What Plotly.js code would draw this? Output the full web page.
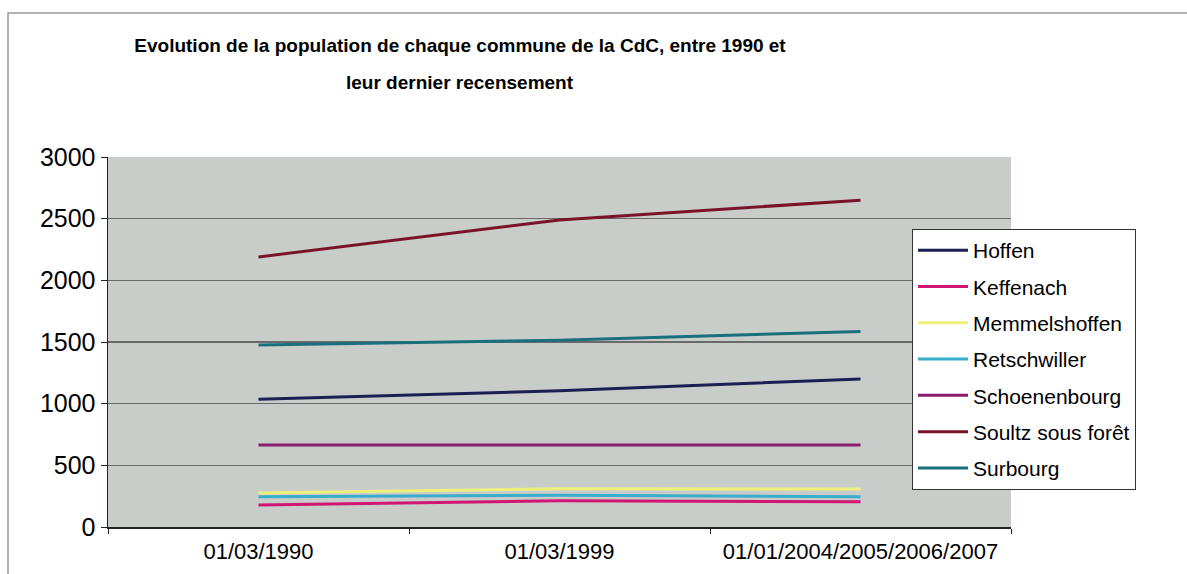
<!DOCTYPE html>
<html>
<head>
<meta charset="utf-8">
<script src="https://cdn.plot.ly/plotly-3.0.1.min.js"></script>
<style>html,body{margin:0;padding:0;background:#fff;}#chart{width:1187px;height:574px;}</style>
</head>
<body>
<div id="chart"></div>
<script>
const categories = ["01/03/1990", "01/03/1999", "01/01/2004/2005/2006/2007"];
const communes = ["Hoffen", "Keffenach", "Memmelshoffen", "Retschwiller", "Schoenenbourg", "Soultz sous forêt", "Surbourg"];
const hoffen = [1035, 1105, 1200];
const keffenach = [178, 213, 205];
const memmelshoffen = [275, 310, 308];
const retschwiller = [246, 257, 246];
const schoenenbourg = [665, 665, 665];
const soultz = [2190, 2490, 2650];
const surbourg = [1475, 1515, 1585];
const seriesValues = [hoffen, keffenach, memmelshoffen, retschwiller, schoenenbourg, soultz, surbourg];
const colors = ["#1b1f52", "#d01672", "#eef07a", "#3aaccc", "#8a1c6e", "#7a1228", "#1a6f7c"];
const yTicks = [0, 500, 1000, 1500, 2000, 2500, 3000];
const titleLines = ["Evolution de la population de chaque commune de la CdC, entre 1990 et", "leur dernier recensement"];

const font = "Arial, 'Liberation Sans', sans-serif";

const traces = communes.map((name, i) => ({
  type: "scatter",
  mode: "lines",
  name: name,
  legendgroup: "g" + i,
  x: categories,
  y: seriesValues[i],
  line: {color: colors[i], width: 3},
  hoverinfo: "x+y+name"
}));

const layout = {
  width: 1187,
  height: 574,
  margin: {l: 108, r: 176, t: 157, b: 47},
  paper_bgcolor: "#ffffff",
  plot_bgcolor: "#c9cdca",
  showlegend: true,
  title: {
    text: "<b>" + titleLines[0] + "</b>",
    font: {family: font, size: 19, color: "#000"},
    x: 460 / 1187,
    xref: "container",
    xanchor: "center",
    y: 1 - 45 / 574,
    yref: "container",
    yanchor: "middle"
  },
  annotations: [
    {text: "<b>" + titleLines[1] + "</b>", xref: "paper", yref: "paper",
     x: (460 - 108) / 903, y: (527 - 82) / 370, xanchor: "center", yanchor: "middle",
     showarrow: false, font: {family: font, size: 19, color: "#000"}}
  ],
  xaxis: {
    type: "category",
    categoryarray: categories,
    range: [-0.5, 2.5],
    showgrid: false,
    showline: true,
    linecolor: "#222",
    linewidth: 2,
    ticks: "outside",
    tickson: "boundaries",
    ticklen: 5,
    tickcolor: "#222",
    ticklabelstandoff: 4,
    tickfont: {family: font, size: 22, color: "#000"},
    zeroline: false,
    fixedrange: true
  },
  yaxis: {
    range: [0, 3000],
    tickvals: yTicks,
    ticktext: yTicks.map(String),
    showgrid: true,
    gridcolor: "#6a6a6a",
    gridwidth: 1.5,
    showline: true,
    linecolor: "#222",
    linewidth: 1.5,
    ticks: "outside",
    ticklen: 6,
    tickcolor: "#222",
    tickfont: {family: font, size: 25, color: "#000"},
    zeroline: false,
    fixedrange: true
  },
  legend: {
    x: (912 - 108) / 903,
    xanchor: "left",
    y: (527 - 229) / 370,
    yanchor: "top",
    bgcolor: "#ffffff",
    bordercolor: "#333",
    borderwidth: 1,
    font: {family: font, size: 21, color: "#000"},
    itemwidth: 50,
    tracegroupgap: 6,
    traceorder: "grouped"
  },
  shapes: [
    {type: "rect", xref: "paper", yref: "paper",
     x0: (8 - 108) / 903, x1: 1.3, y0: -0.3, y1: (527 - 13) / 370,
     line: {color: "#9a9a9a", width: 1.5}, fillcolor: "rgba(0,0,0,0)", layer: "below"}
  ]
};

Plotly.newPlot("chart", traces, layout, {displayModeBar: false, staticPlot: true});
</script>
</body>
</html>
